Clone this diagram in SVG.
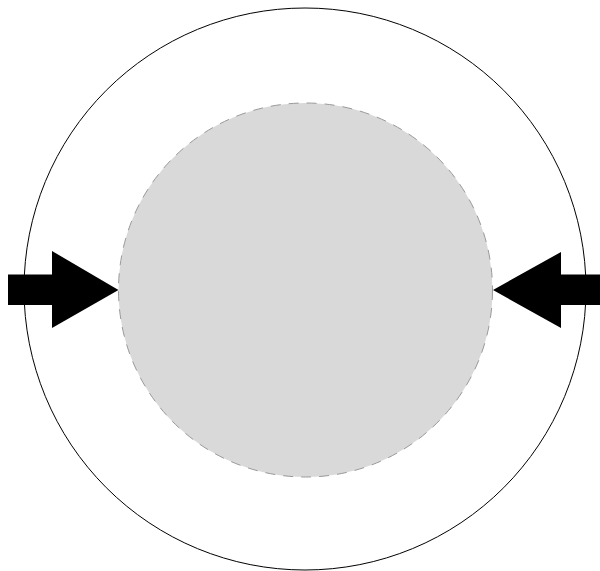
<svg xmlns="http://www.w3.org/2000/svg" width="600" height="571" viewBox="0 0 600 571">
  <style>
    .outer { fill: none; stroke: #000; stroke-width: 1; }
    .inner { fill: #d9d9d9; stroke: #999; stroke-width: 1; stroke-dasharray: 10 8; }
    .arrow { fill: #000; stroke: none; }
  </style>
  <rect width="600" height="571" fill="#fff"/>
  <g id="outer-circle">
    <circle class="outer" cx="305" cy="289" r="281"/>
  </g>
  <g id="inner-circle">
    <circle class="inner" cx="305.5" cy="290" r="187"/>
  </g>
  <g id="connectors">
    <polygon class="arrow" points="8,274.5 52,274.5 52,251 118.5,290 52,328 52,305 8,305"/>
    <polygon class="arrow" points="600,274.5 561,274.5 561,252 493,290 561,328 561,305 600,305"/>
  </g>
</svg>
